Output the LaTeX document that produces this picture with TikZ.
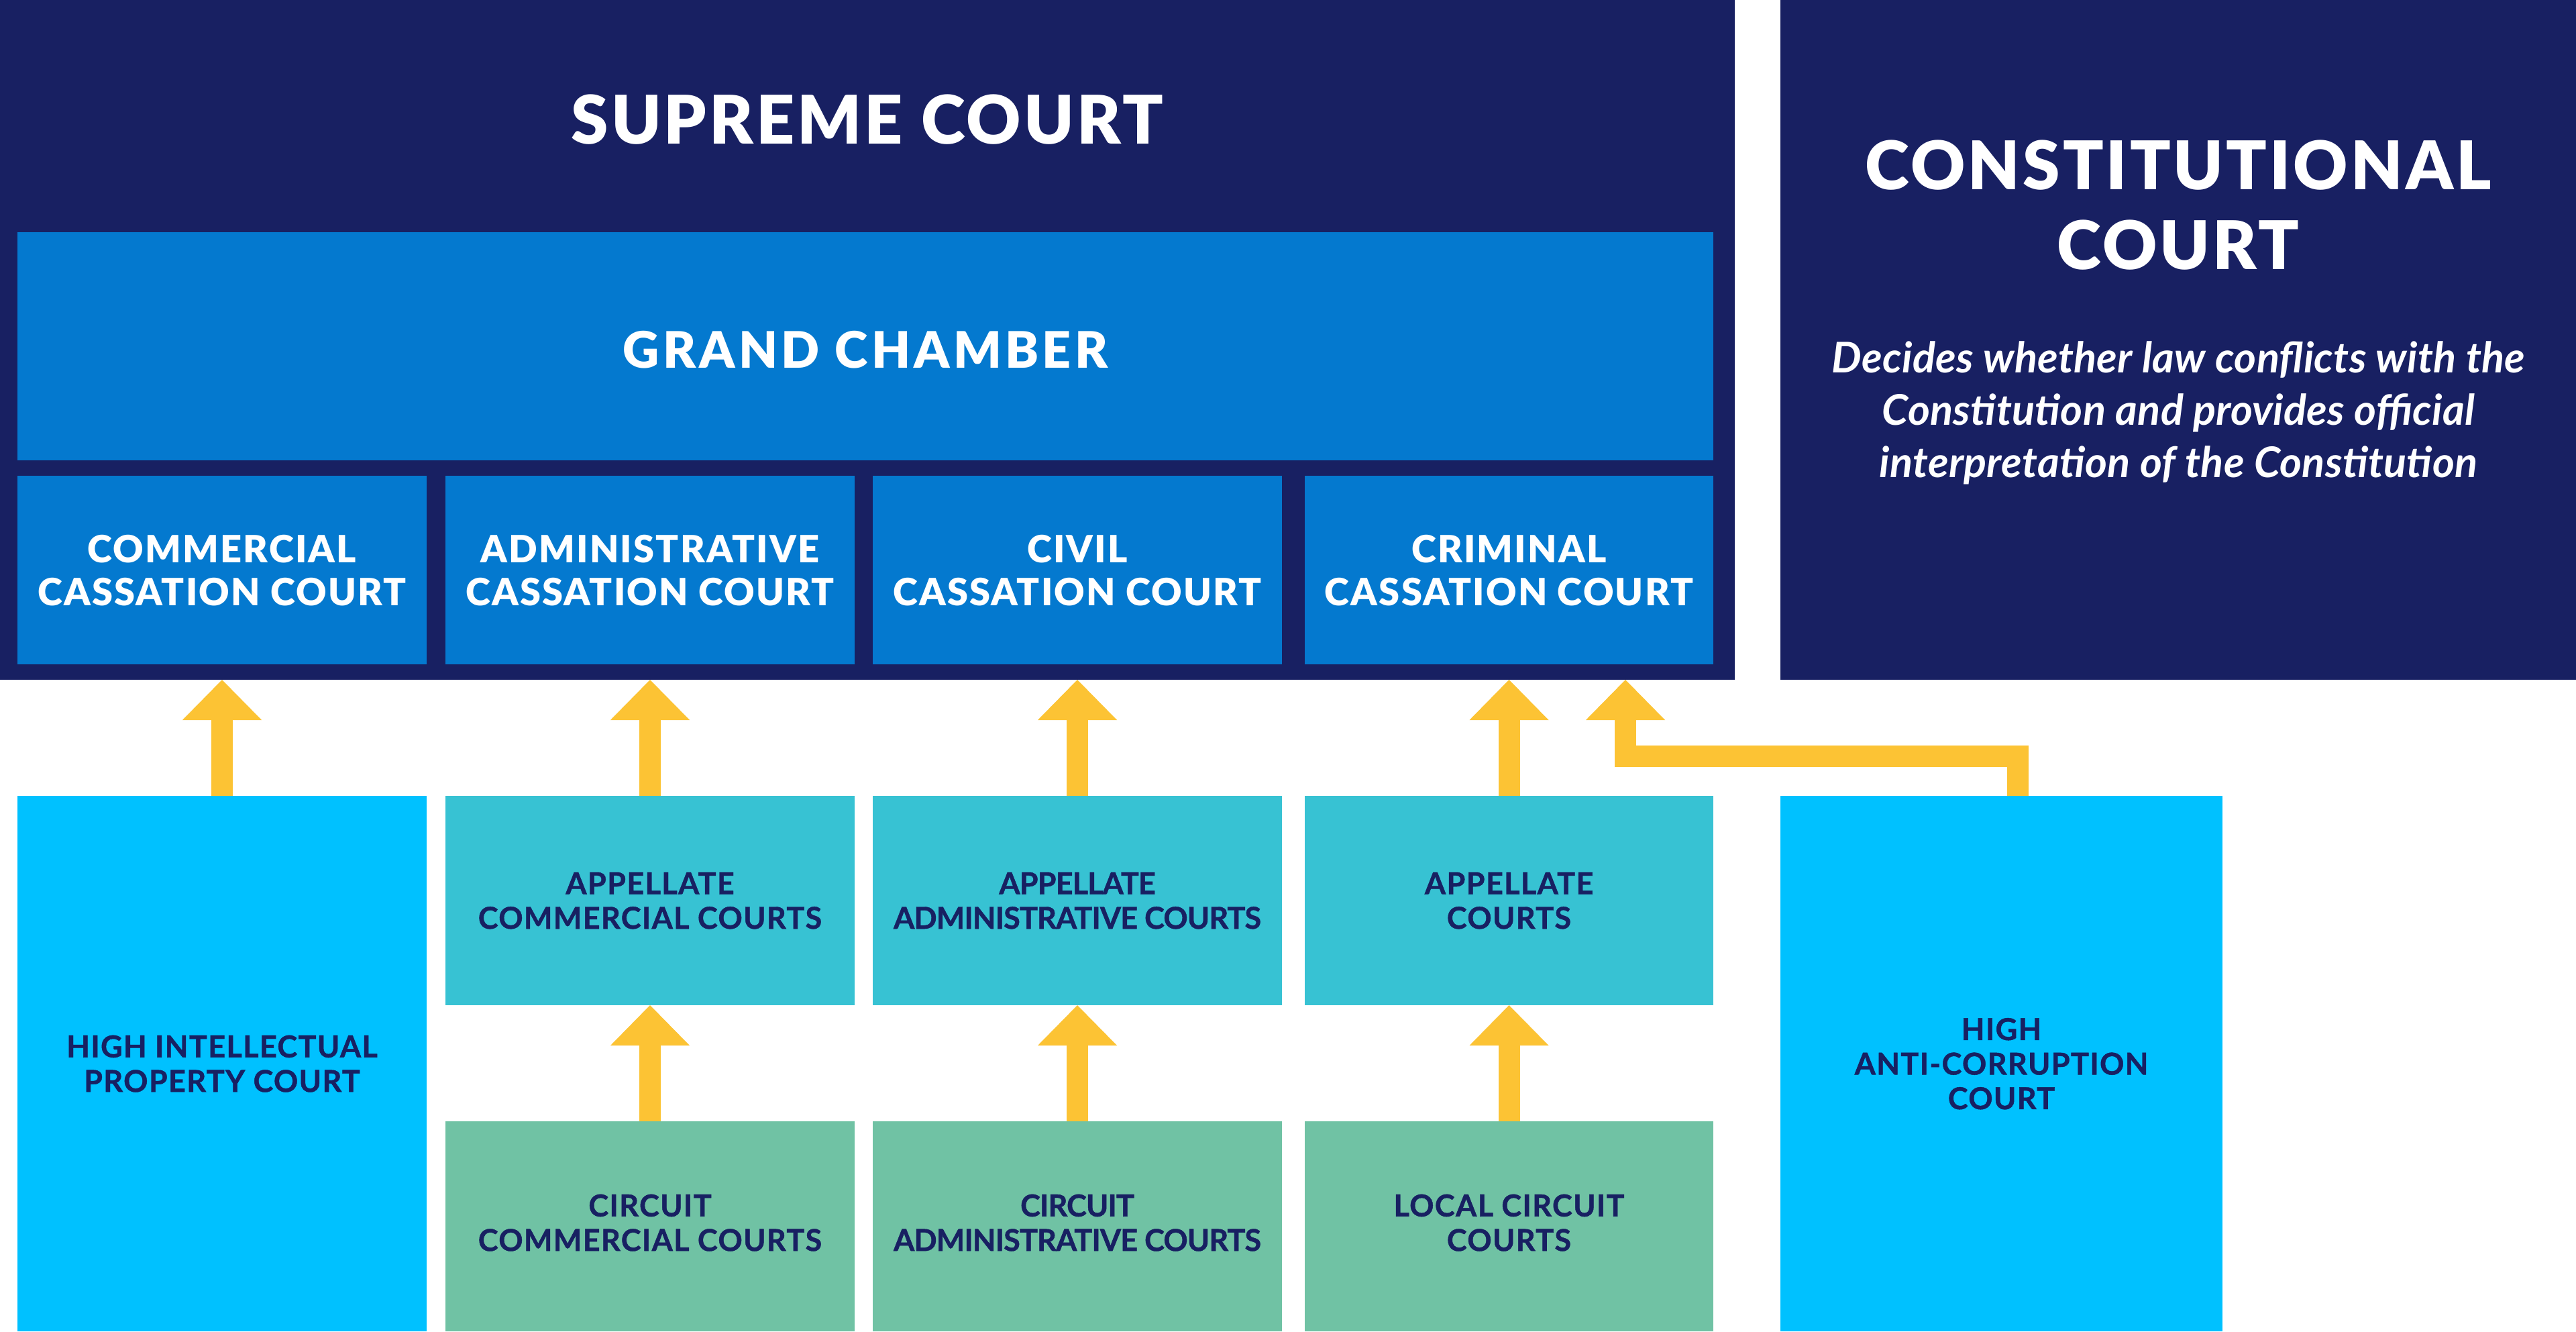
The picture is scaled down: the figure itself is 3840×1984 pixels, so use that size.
\documentclass[tikz,border=0pt]{standalone}
\usepackage{fontspec}
\setmainfont{Lato}
\IfFontExistsTF{Lato Black}{\newfontfamily\heavy{Lato Black}}{%
  \IfFontExistsTF{Lato Heavy}{\newfontfamily\heavy{Lato Heavy}}{\newfontface\heavy{Lato Bold}[FakeBold=2]}}
\usetikzlibrary{arrows.meta}
\definecolor{navy}{HTML}{182062}
\definecolor{gcblue}{HTML}{0479CF}
\definecolor{cyanbox}{HTML}{00C1FF}
\definecolor{tealbox}{HTML}{37C2D3}
\definecolor{greenbox}{HTML}{70C2A4}
\definecolor{arrowc}{HTML}{FCC334}
\tikzset{
  box/.style={rectangle, inner sep=0pt, outer sep=0pt, draw=none, anchor=north west, align=center, text depth=0pt},
  bigtitle/.style={inner sep=0pt, align=center, text=white, text depth=0pt, font=\fontsize{100}{119}\selectfont\heavy\addfontfeature{LetterSpace=4}},
  gctext/.style={text=white, text height=64pt, font=\fontsize{75}{90}\selectfont\heavy\addfontfeature{LetterSpace=7}},
  casstext/.style={text=white, font=\fontsize{56}{64}\selectfont\heavy\addfontfeature{LetterSpace=4}},
  lowtext/.style={text=navy, font=\fontsize{45}{51.5}\selectfont\bfseries\addfontfeature{LetterSpace=3,FakeBold=1}},
  lowtight/.style={text=navy, font=\fontsize{45}{51.5}\selectfont\bfseries\addfontfeature{LetterSpace=-2,FakeBold=1}},
  desc/.style={inner sep=0pt, align=center, text=white, text depth=0pt, font=\fontsize{63}{78}\selectfont\bfseries\itshape\addfontfeature{LetterSpace=0.5}},
  blockarrow/.style={draw=arrowc, line width=32pt, line join=miter, -{Triangle[length=60pt, width=118pt, line width=0pt]}}
}
\begin{document}
\begin{tikzpicture}[x=1pt, y=-1pt]
\fill[white] (0,0) rectangle (3840,1984);
\useasboundingbox (0,0) rectangle (3840,1984);
% Supreme court
\node[box, fill=navy, minimum width=2586pt, minimum height=1013pt] (sc) at (0,0) {};
\node[bigtitle] (sctitle) at (1293,177.6) {SUPREME COURT};
\node[box, fill=gcblue, gctext, minimum width=2528pt, minimum height=340pt] (gc) at (26,346) {GRAND CHAMBER};
\node[box, fill=gcblue, casstext, minimum width=610pt, minimum height=281pt] (cs1) at (26,709) {COMMERCIAL\\CASSATION COURT};
\node[box, fill=gcblue, casstext, minimum width=610pt, minimum height=281pt] (cs2) at (664,709) {ADMINISTRATIVE\\CASSATION COURT};
\node[box, fill=gcblue, casstext, minimum width=610pt, minimum height=281pt] (cs3) at (1301,709) {CIVIL\\CASSATION COURT};
\node[box, fill=gcblue, casstext, minimum width=609pt, minimum height=281pt] (cs4) at (1945,709) {CRIMINAL\\CASSATION COURT};
% Constitutional court
\node[box, fill=navy, minimum width=1186pt, minimum height=1013pt] (cc) at (2654,0) {};
\node[bigtitle] (cctitle) at (3247,305.5) {CONSTITUTIONAL\\COURT};
\node[desc] (ccdesc) at (3247.5,610.5) {Decides whether law conflicts with the\\Constitution and provides official\\interpretation of the Constitution};
% lower courts
\node[box, fill=cyanbox, lowtext, minimum width=610pt, minimum height=798pt] (hipc) at (26,1186) {HIGH INTELLECTUAL\\PROPERTY COURT};
\node[box, fill=tealbox, lowtext, minimum width=610pt, minimum height=312pt] (ap2) at (664,1186) {APPELLATE\\COMMERCIAL COURTS};
\node[box, fill=tealbox, lowtight, minimum width=610pt, minimum height=312pt] (ap3) at (1301,1186) {APPELLATE\\ADMINISTRATIVE COURTS};
\node[box, fill=tealbox, lowtext, minimum width=609pt, minimum height=312pt] (ap4) at (1945,1186) {APPELLATE\\COURTS};
\node[box, fill=greenbox, lowtext, text depth=11pt, minimum width=610pt, minimum height=313pt] (ci2) at (664,1671) {CIRCUIT\\COMMERCIAL COURTS};
\node[box, fill=greenbox, lowtight, text depth=11pt, minimum width=610pt, minimum height=313pt] (ci3) at (1301,1671) {CIRCUIT\\ADMINISTRATIVE COURTS};
\node[box, fill=greenbox, lowtext, text depth=11pt, minimum width=609pt, minimum height=313pt] (ci4) at (1945,1671) {LOCAL CIRCUIT\\COURTS};
\node[box, fill=cyanbox, lowtext, minimum width=659pt, minimum height=798pt] (hacc) at (2654,1186) {HIGH\\ANTI-CORRUPTION\\COURT};
% arrows
\draw[blockarrow] (hipc.north) -- (hipc.north |- sc.south);
\draw[blockarrow] (ap2.north) -- (ap2.north |- sc.south);
\draw[blockarrow] (ap3.north) -- (ap3.north |- sc.south);
\draw[blockarrow] (ap4.north) -- (ap4.north |- sc.south);
\draw[blockarrow] (ci2.north) -- (ap2.south);
\draw[blockarrow] (ci3.north) -- (ap3.south);
\draw[blockarrow] (ci4.north) -- (ap4.south);
\coordinate (hk) at (2423,1126.5);
\draw[blockarrow] ([xshift=24.5pt]hacc.north) |- (hk) -- (hk |- sc.south);
\end{tikzpicture}
\end{document}
